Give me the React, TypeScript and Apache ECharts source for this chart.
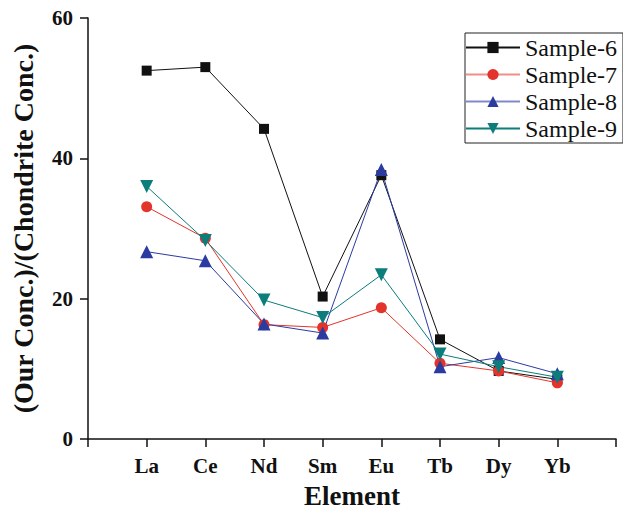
import React, { useEffect, useRef } from "react";
import * as echarts from "echarts";

const elements = ["La", "Ce", "Nd", "Sm", "Eu", "Tb", "Dy", "Yb"];
const sample6 = [52.5, 53.0, 44.2, 20.3, 37.6, 14.2, 9.7, 8.5];
const sample7 = [33.1, 28.6, 16.3, 15.9, 18.7, 10.8, 9.7, 8.0];
const sample8 = [26.7, 25.4, 16.4, 15.1, 38.4, 10.3, 11.6, 9.3];
const sample9 = [36.0, 28.3, 19.8, 17.3, 23.4, 12.1, 10.3, 8.8];
const yTicks = [0, 20, 40, 60];

const FONT = "'Liberation Serif', 'Times New Roman', 'DejaVu Serif', serif";

function pairs(vals: number[]) {
  return vals.map((v, i) => [i + 1, v]);
}

export default function App() {
  const ref = useRef<HTMLDivElement>(null);
  useEffect(() => {
    if (!ref.current) return;
    const chart = echarts.init(ref.current, null, { renderer: "svg" });
    const mk = (name: string, data: number[], color: string, symbol: string, size: number) => ({
      name,
      type: "line",
      data: pairs(data),
      symbol,
      symbolSize: size,
      lineStyle: { color, width: 1 },
      itemStyle: { color },
    });
    chart.setOption({
      animation: false,
      backgroundColor: "#ffffff",
      grid: { left: 88, right: 7, top: 18, bottom: 70, containLabel: false },
      legend: {
        orient: "vertical",
        left: 465,
        top: 33,
        padding: [1, 6, 1, 0],
        itemGap: 0,
        itemWidth: 54,
        itemHeight: 14,
        borderColor: "#222",
        borderWidth: 1,
        textStyle: { fontFamily: FONT, fontSize: 24, lineHeight: 27, color: "#111" },
        data: [
          { name: "Sample-6" },
          { name: "Sample-7", lineStyle: { color: "#f08f8a", width: 2 } },
          { name: "Sample-8", lineStyle: { color: "#8089cc", width: 2 } },
          { name: "Sample-9" },
        ],
      },
      xAxis: {
        type: "value",
        min: 0,
        max: 9,
        interval: 1,
        name: "Element",
        nameLocation: "middle",
        nameGap: 43,
        nameTextStyle: { fontFamily: FONT, fontSize: 27, fontWeight: "bold", color: "#111" },
        axisLine: { lineStyle: { color: "#111", width: 1.5 } },
        axisTick: { length: 8, lineStyle: { color: "#111", width: 1.5 } },
        splitLine: { show: false },
        axisLabel: {
          fontFamily: FONT,
          fontSize: 21,
          fontWeight: "bold",
          color: "#111",
          margin: 16,
          formatter: (v: number) => (v >= 1 && v <= elements.length ? elements[v - 1] : ""),
        },
      },
      yAxis: {
        type: "value",
        min: yTicks[0],
        max: yTicks[yTicks.length - 1],
        interval: yTicks[1] - yTicks[0],
        name: "(Our Conc.)/(Chondrite Conc.)",
        nameLocation: "middle",
        nameGap: 51,
        nameTextStyle: { fontFamily: FONT, fontSize: 28, fontWeight: "bold", color: "#111" },
        axisLine: { show: true, lineStyle: { color: "#111", width: 1.5 } },
        axisTick: { show: true, length: 8, lineStyle: { color: "#111", width: 1.5 } },
        splitLine: { show: false },
        axisLabel: { fontFamily: FONT, fontSize: 21, fontWeight: "bold", color: "#111", margin: 15 },
      },
      series: [
        mk("Sample-6", sample6, "#111111", "rect", 10),
        mk("Sample-7", sample7, "#e3342b", "circle", 11),
        mk("Sample-8", sample8, "#2b3b9f", "triangle", 13),
        mk("Sample-9", sample9, "#0b7d7b", "path://M0,0L10,0L5,9Z", 13),
      ],
    });
    return () => chart.dispose();
  }, []);
  return (
    <div
      ref={ref}
      style={{ position: "fixed", left: 0, top: 0, width: 623, height: 514 }}
    />
  );
}
